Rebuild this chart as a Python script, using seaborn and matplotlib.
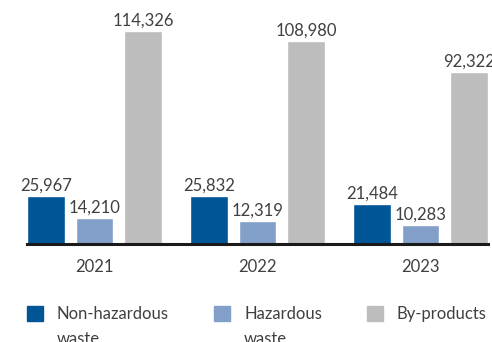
import matplotlib
matplotlib.use("Agg")
import matplotlib.pyplot as plt
import seaborn as sns
import pandas as pd

years = ["2021", "2022", "2023"]
categories = ["Non-hazardous waste", "Hazardous waste", "By-products"]
legend_first_lines = ["Non-hazardous", "Hazardous", "By-products"]
legend_second_lines = ["waste", "waste", ""]
non_hazardous = [25967, 25832, 21484]
hazardous = [14210, 12319, 10283]
by_products = [114326, 108980, 92322]
colors = ["#005596", "#829fc9", "#bdbdbd"]

df = pd.DataFrame({
    "year": years * 3,
    "category": [categories[0]] * 3 + [categories[1]] * 3 + [categories[2]] * 3,
    "value": non_hazardous + hazardous + by_products,
})

sns.set_theme(style="white")
plt.rcParams["font.family"] = ["Lato", "DejaVu Sans"]
text_color = "#404040"
fs = 12

fig = plt.figure(figsize=(4.92, 3.42), dpi=100)
ax = fig.add_axes([27 / 492, 1 - 244 / 342, (488 - 27) / 492, 244 / 342])

sns.barplot(data=df, x="year", y="value", hue="category", hue_order=categories,
            palette=colors, width=0.895, gap=0.22, saturation=1, ax=ax,
            legend=False, errorbar=None)

for container in ax.containers:
    ax.bar_label(container, labels=[f"{v:,.0f}" for v in container.datavalues],
                 padding=1.5, fontsize=fs, color=text_color)

ax.set_xlim(-0.414, 2.414)
ax.set_ylim(0, 131000)
ax.set_xlabel("")
ax.set_ylabel("")
ax.set_yticks([])
for side in ["left", "right", "top"]:
    ax.spines[side].set_visible(False)
ax.spines["bottom"].set_color("#1a1a1a")
ax.spines["bottom"].set_linewidth(2.2)
ax.tick_params(axis="x", length=0, pad=11, labelsize=fs, labelcolor=text_color)

handles = [plt.Rectangle((0, 0), 1, 1, color=c) for c in colors]
leg = fig.legend(handles, legend_first_lines, loc="upper left",
                 bbox_to_anchor=(27 / 492, 1 - 306 / 342),
                 ncol=3, frameon=False, fontsize=fs, labelcolor=text_color,
                 handlelength=0.96, handleheight=0.96, handletextpad=0.84,
                 columnspacing=2.7, borderaxespad=0, borderpad=0)

# second line of each legend label, set under the first
fig.canvas.draw()
inv = fig.transFigure.inverted()
for txt, extra in zip(leg.get_texts(), legend_second_lines):
    if not extra:
        continue
    bb = txt.get_window_extent()
    x0, y0 = inv.transform((bb.x0, bb.y0 - 25))
    fig.text(x0, y0, extra, fontsize=fs, color=text_color, ha="left", va="bottom")

fig.savefig("out.png", dpi=100)
